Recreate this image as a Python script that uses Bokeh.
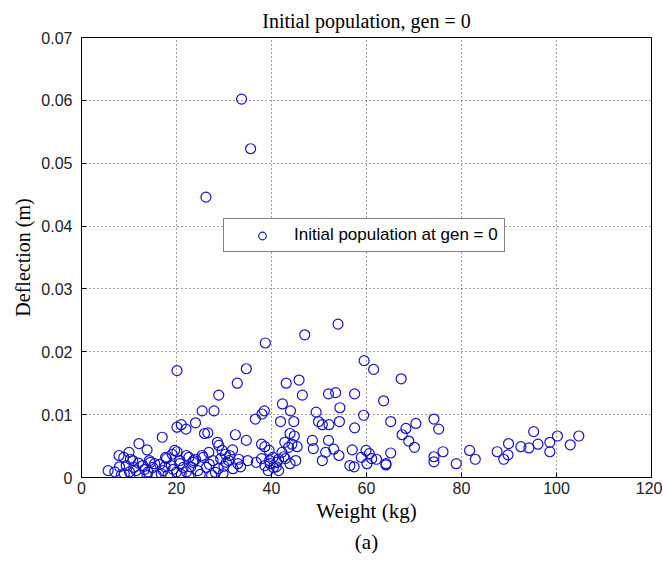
from bokeh.plotting import figure
from bokeh.models import ColumnDataSource, Legend, LegendItem, Title, FixedTicker
from bokeh.embed import file_html
from bokeh.resources import INLINE

# ---------------- data ----------------
weight = [
    # outliers
    33.7, 35.6, 26.2,
    # upper-middle band
    54.0, 47.0, 38.7, 59.5, 61.5, 20.1, 34.7, 67.3, 45.8, 43.1, 32.8, 28.9, 46.5,
    52.0, 53.5, 57.5, 63.6, 42.3, 54.4, 25.4, 27.9, 38.5, 44.0, 49.4, 38.0, 59.4,
    36.6, 74.2, 24.0, 21.0, 20.1, 22.0, 41.9, 44.7, 49.9, 54.3, 65.1, 70.4, 50.7,
    52.1, 68.3, 57.5, 75.2, 26.6, 67.5, 44.8, 32.4, 17.0, 43.9, 25.9, 100.2, 104.7,
    95.2,
    # lower-middle band
    34.7, 48.6, 52.0, 68.9, 98.6, 28.6, 42.8, 12.1, 89.9, 96.1, 44.3, 37.9, 102.9,
    28.9, 38.6, 45.4, 92.5, 70.1, 94.2, 48.8, 53.1, 13.8, 31.8, 57.0, 39.5, 59.9,
    81.7, 20.1, 29.6, 76.1, 87.5, 98.6, 51.4, 10.0, 26.8, 42.2, 65.1, 60.6, 30.3,
    19.1, 89.8, 7.9, 25.4, 22.1, 54.2, 74.2, 31.2, 8.9, 17.7, 22.6, 58.9, 40.3,
    43.6,
    # low band, right part
    10.3, 33.1, 62.1, 82.9, 88.9, 50.7, 31.0, 23.6, 74.2, 60.1, 64.1, 78.9, 64.1,
    57.4, 14.5, 56.5, 61.1, 41.5, 42.6, 45.1, 41.5, 43.9, 42.9, 41.0, 39.7,
    # dense cluster
    5.6, 7.0, 8.4, 8.0, 9.4, 10.1, 10.8, 11.5, 12.2, 12.9, 14.0, 14.3, 15.0, 15.7,
    16.5, 17.2, 17.9, 18.2, 18.9, 19.6, 20.0, 20.7, 21.4, 9.0, 11.0, 13.3, 15.4,
    16.8, 19.3, 21.0, 12.0, 17.6, 13.8,
    20.7, 22.1, 23.5, 24.5, 25.6, 26.3, 27.4, 27.7, 28.8, 29.8, 30.5, 31.9, 32.9,
    35.0, 36.8, 37.9, 38.6, 39.6, 40.4, 41.1, 39.3, 23.0, 25.0, 26.9, 28.2, 30.0,
    33.5, 24.0, 29.3, 22.6,
]
deflection = [
    0.0602, 0.0523, 0.0446,
    0.0244, 0.0227, 0.0214, 0.0186, 0.0172, 0.0170, 0.0173, 0.0157, 0.0155, 0.0150,
    0.0150, 0.0131, 0.0131, 0.0133, 0.0135, 0.0133, 0.0122, 0.0117, 0.0111, 0.0106,
    0.0106, 0.0106, 0.0106, 0.0104, 0.0101, 0.0099, 0.0093, 0.0093, 0.0087, 0.0084,
    0.0080, 0.0077, 0.0089, 0.0089, 0.0089, 0.0089, 0.0089, 0.0086, 0.0084, 0.0084,
    0.0078, 0.0079, 0.0077, 0.0071, 0.0068, 0.0066, 0.0068, 0.0064, 0.0070, 0.0070,
    0.0066, 0.0066, 0.0073,
    0.0059, 0.0059, 0.0059, 0.0058, 0.0056, 0.0056, 0.0056, 0.0054, 0.0054, 0.0053,
    0.0053, 0.0053, 0.0052, 0.0051, 0.0049, 0.0049, 0.0049, 0.0048, 0.0047, 0.0046,
    0.0045, 0.0044, 0.0044, 0.0044, 0.0043, 0.0043, 0.0043, 0.0041, 0.0043, 0.0041,
    0.0041, 0.0041, 0.0040, 0.0040, 0.0040, 0.0040, 0.0039, 0.0038, 0.0037, 0.0037,
    0.0036, 0.0035, 0.0035, 0.0035, 0.0035, 0.0033, 0.0035, 0.0032, 0.0032, 0.0032,
    0.0032, 0.0032, 0.0048,
    0.0029, 0.0029, 0.0029, 0.0029, 0.0029, 0.0027, 0.0027, 0.0027, 0.0025, 0.0022,
    0.0022, 0.0022, 0.0020, 0.0017, 0.0024, 0.0019, 0.0030, 0.0029, 0.0033, 0.0027,
    0.0011, 0.0022, 0.0030, 0.0017, 0.0022,
    0.0011, 0.0009, 0.0004, 0.0017, 0.0019, 0.0009, 0.0027, 0.0011, 0.0004, 0.0019,
    0.0009, 0.0027, 0.0016, 0.0004, 0.0021, 0.0011, 0.0030, 0.0004, 0.0019, 0.0043,
    0.0009, 0.0027, 0.0016, 0.0006, 0.0016, 0.0013, 0.0022, 0.0006, 0.0013, 0.0005,
    0.0023, 0.0017, 0.0003,
    0.0022, 0.0009, 0.0024, 0.0011, 0.0032, 0.0016, 0.0004, 0.0027, 0.0014, 0.0006,
    0.0024, 0.0014, 0.0022, 0.0027, 0.0024, 0.0030, 0.0019, 0.0027, 0.0016, 0.0024,
    0.0011, 0.0017, 0.0005, 0.0021, 0.0008, 0.0018, 0.0017, 0.0029, 0.0030, 0.0002,
]

x_ticks = [0, 20, 40, 60, 80, 100, 120]
x_tick_labels = ["0", "20", "40", "60", "80", "100", "120"]
y_ticks = [0, 0.01, 0.02, 0.03, 0.04, 0.05, 0.06, 0.07]
y_tick_labels = ["0", "0.01", "0.02", "0.03", "0.04", "0.05", "0.06", "0.07"]

title_text = "Initial population, gen = 0"
x_label = "Weight (kg)"
y_label = "Deflection (m)"
caption = "(a)"
legend_label = "Initial population at gen = 0"

# ---------------- styles ----------------
SERIF = "Liberation Serif"
SANS = "Liberation Sans"
MARK = "#1414c8"

n = min(len(weight), len(deflection))
src = ColumnDataSource(data=dict(x=weight[:n], y=deflection[:n]))

p = figure(width=662, height=564, x_range=(0, 120), y_range=(0, 0.07),
           output_backend="svg", toolbar_location=None,
           min_border_left=81, min_border_right=11, min_border_top=37,
           min_border_bottom=87, background_fill_color="white",
           border_fill_color="white")

p.title.text = title_text
p.title.align = "center"
p.title.text_font = SERIF
p.title.text_font_size = "20px"
p.title.text_font_style = "normal"
p.title.text_color = "black"
p.title.standoff = 12

p.outline_line_color = "black"
p.outline_line_width = 1

for ax in (p.xaxis[0], p.yaxis[0]):
    ax.axis_line_color = "black"
    ax.major_tick_in = 5
    ax.major_tick_out = 0
    ax.major_tick_line_color = "black"
    ax.minor_tick_line_color = None
    ax.major_label_text_font = SANS
    ax.major_label_text_font_size = "16px"
    ax.major_label_text_color = "#222222"
    ax.axis_label_text_font = SERIF
    ax.axis_label_text_font_size = "20px"
    ax.axis_label_text_font_style = "normal"
    ax.axis_label_text_color = "black"

p.xaxis[0].axis_label_text_font_size = "21px"
p.xaxis[0].ticker = FixedTicker(ticks=x_ticks)
p.xaxis[0].major_label_overrides = dict(zip(x_ticks, x_tick_labels))
p.yaxis[0].ticker = FixedTicker(ticks=y_ticks)
p.yaxis[0].major_label_overrides = dict(zip(y_ticks, y_tick_labels))
p.xaxis[0].axis_label = x_label
p.yaxis[0].axis_label = y_label
p.xaxis[0].major_label_standoff = 4
p.xaxis[0].axis_label_standoff = 2
p.yaxis[0].major_label_standoff = 9
p.yaxis[0].axis_label_standoff = 4

for g in (p.xgrid[0], p.ygrid[0]):
    g.grid_line_color = "black"
    g.grid_line_alpha = 0.75
    g.grid_line_dash = "1 3"
    g.grid_line_width = 1
p.xgrid[0].ticker = FixedTicker(ticks=x_ticks)
p.ygrid[0].ticker = FixedTicker(ticks=y_ticks)

r = p.scatter(x="x", y="y", source=src, marker="circle", size=10,
              fill_color=None, line_color=MARK, line_width=1.2)

legend = Legend(items=[LegendItem(label=legend_label, renderers=[r])],
                location=(142, 225), margin=0, padding=6, spacing=0,
                glyph_width=64, glyph_height=19, label_height=19,
                label_standoff=0, label_width=202,
                label_text_font=SANS, label_text_font_size="17px",
                label_text_color="black",
                border_line_color="black", border_line_width=1,
                background_fill_color="white", background_fill_alpha=1)
p.add_layout(legend, "center")

p.add_layout(Title(text=caption, align="center", text_font=SERIF,
                   text_font_size="21px", text_font_style="normal",
                   text_color="black", standoff=4), "below")

open("out.html", "w").write(file_html(p, INLINE))
